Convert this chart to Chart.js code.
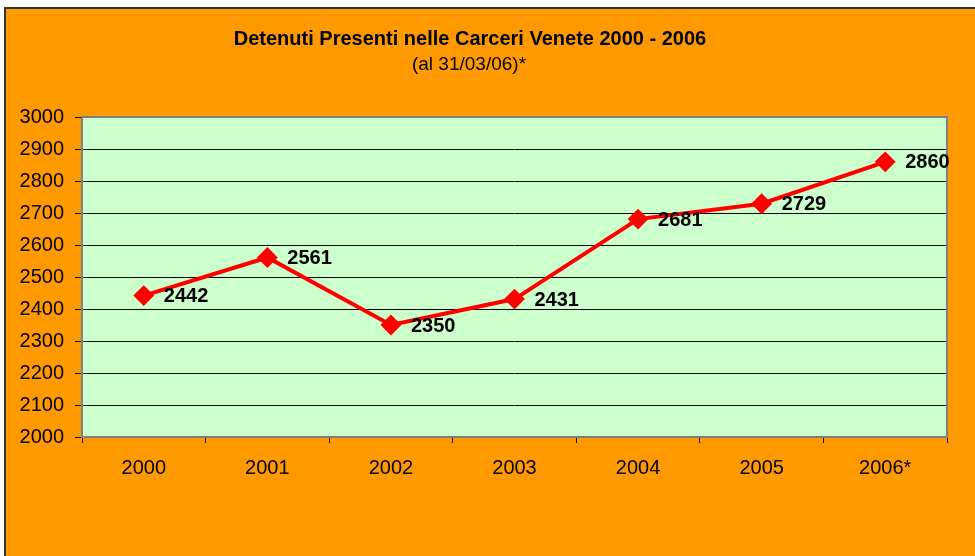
<!DOCTYPE html>
<html>
<head>
<meta charset="utf-8">
<script src="https://cdn.jsdelivr.net/npm/chart.js@4"></script>
<style>
  html, body { margin: 0; padding: 0; background: #fff; overflow: hidden; }
  #frame {
    position: absolute; left: 4px; top: 7px; width: 1000px; height: 600px;
    background: #FF9900; border-top: 2px solid #333; border-left: 2px solid #333;
  }
  #chart { position: absolute; left: 0; top: 0; }
</style>
</head>
<body>
<div id="frame"></div>
<canvas id="chart" width="975" height="556"></canvas>
<script>
const years = ['2000', '2001', '2002', '2003', '2004', '2005', '2006*'];
const detenuti = [2442, 2561, 2350, 2431, 2681, 2729, 2860];
const yMin = 2000, yMax = 3000, yStep = 100;
const titleText = 'Detenuti Presenti nelle Carceri Venete 2000 - 2006';
const subtitleText = '(al 31/03/06)*';

const FONT = '"Liberation Sans", Arial, sans-serif';

// green plot area and grey frame around it
const plotArea = {
    id: 'plotArea',
    beforeDraw(c) {
        const a = c.chartArea, ctx = c.ctx;
        ctx.save();
        ctx.fillStyle = '#CCFFCC';
        ctx.fillRect(a.left, a.top, a.right - a.left, a.bottom - a.top);
        ctx.restore();
    },
    beforeDatasetsDraw(c) {
        const a = c.chartArea, ctx = c.ctx;
        ctx.save();
        ctx.strokeStyle = '#808080';
        ctx.lineWidth = 2;
        ctx.strokeRect(a.left, a.top, a.right - a.left, a.bottom - a.top);
        ctx.restore();
    }
};

// title lines
const titles = {
    id: 'titles',
    afterDraw(c) {
        const ctx = c.ctx;
        ctx.save();
        ctx.fillStyle = '#000';
        ctx.textAlign = 'center';
        ctx.textBaseline = 'alphabetic';
        ctx.font = 'bold 20px ' + FONT;
        ctx.fillText(titleText, 470, 45);
        ctx.font = '19px ' + FONT;
        ctx.fillText(subtitleText, 469, 70);
        ctx.restore();
    }
};

// value labels to the right of each point
const valueLabels = {
    id: 'valueLabels',
    afterDatasetsDraw(c) {
        const ctx = c.ctx;
        const meta = c.getDatasetMeta(0);
        ctx.save();
        ctx.fillStyle = '#000';
        ctx.font = 'bold 20px ' + FONT;
        ctx.textAlign = 'left';
        ctx.textBaseline = 'middle';
        meta.data.forEach((pt, i) => {
            ctx.fillText(String(detenuti[i]), pt.x + 20, pt.y + 1);
        });
        ctx.restore();
    }
};

new Chart(document.getElementById('chart'), {
    type: 'line',
    data: {
        labels: years,
        datasets: [{
            data: detenuti,
            borderColor: '#FF0000',
            borderWidth: 4,
            backgroundColor: '#FF0000',
            pointStyle: 'rectRot',
            pointRadius: 9,
            pointBorderWidth: 2,
            pointBorderColor: '#FF0000',
            pointBackgroundColor: '#FF0000',
            tension: 0
        }]
    },
    options: {
        responsive: false,
        animation: false,
        layout: { padding: { left: 0, right: 28, top: 117, bottom: 59 } },
        plugins: {
            legend: { display: false },
            title: { display: false },
            tooltip: { enabled: false }
        },
        scales: {
            x: {
                offset: true,
                afterFit(s) { s.height = 60; },
                grid: {
                    offset: true,
                    drawOnChartArea: false,
                    drawTicks: true,
                    tickLength: 6,
                    color: '#000'
                },
                border: { display: false },
                ticks: {
                    color: '#000',
                    padding: 13,
                    maxRotation: 0,
                    font: { family: FONT, size: 20 }
                }
            },
            y: {
                min: yMin,
                max: yMax,
                afterFit(s) { s.width = 82; },
                grid: {
                    color: '#000',
                    lineWidth: 1,
                    drawTicks: true,
                    tickLength: 7
                },
                border: { display: false },
                ticks: {
                    stepSize: yStep,
                    color: '#000',
                    padding: 11,
                    font: { family: FONT, size: 20 },
                    callback: (v) => String(v)
                }
            }
        }
    },
    plugins: [plotArea, titles, valueLabels]
});
</script>
</body>
</html>
